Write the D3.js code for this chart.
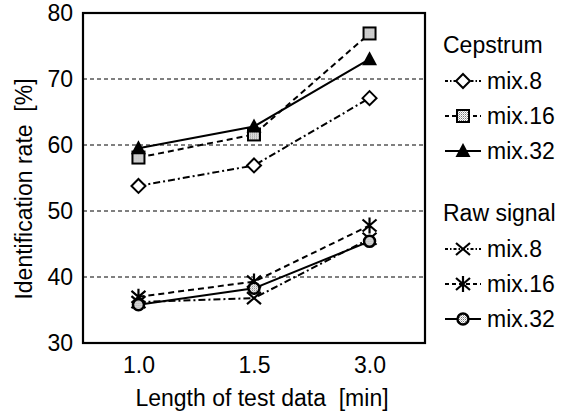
<!DOCTYPE html>
<html><head><meta charset="utf-8">
<script src="https://cdn.jsdelivr.net/npm/d3@7"></script>
<style>body{margin:0;background:#fff}svg{display:block}text{font-family:"Liberation Sans",Arial,sans-serif;fill:#000}</style>
</head><body><svg id="c" width="567" height="414"></svg>
<script>
const categories = ["1.0", "1.5", "3.0"];
const yTicks = [30, 40, 50, 60, 70, 80];
const gridValues = [40, 50, 60, 70];
const cep8 = [53.8, 56.9, 67.1];
const cep16 = [58.1, 61.6, 76.9];
const cep32 = [59.5, 62.8, 73.0];
const raw8 = [36.2, 36.8, 45.8];
const raw16 = [37.0, 39.3, 47.8];
const raw32 = [35.8, 38.3, 45.4];
const groupTitles = ["Cepstrum", "Raw signal"];
const seriesNames = ["mix.8", "mix.16", "mix.32"];

const series = [
  {g:0, name:seriesNames[0], values:cep8, dash:"7,3,2,3", marker:"diamond"},
  {g:0, name:seriesNames[1], values:cep16, dash:"6,4", marker:"square"},
  {g:0, name:seriesNames[2], values:cep32, dash:null, marker:"triangle"},
  {g:1, name:seriesNames[0], values:raw8, dash:"7,3,2,3", marker:"cross"},
  {g:1, name:seriesNames[1], values:raw16, dash:"6,4", marker:"asterisk"},
  {g:1, name:seriesNames[2], values:raw32, dash:null, marker:"circle"}
];

const FS = 23;
const svg = d3.select("#c");
const L = 83, R = 425, T = 13, B = 343;
const x = d3.scalePoint().domain(categories).range([L, R]).padding(0.48);
const y = d3.scaleLinear().domain([30, 80]).range([B, T]);

const defs = svg.append("defs");
const pat = defs.append("pattern").attr("id","dots").attr("width",2).attr("height",2).attr("patternUnits","userSpaceOnUse");
pat.append("rect").attr("width",2).attr("height",2).attr("fill","#fff");
pat.append("rect").attr("width",1).attr("height",1).attr("fill","#777");
pat.append("rect").attr("x",1).attr("y",1).attr("width",1).attr("height",1).attr("fill","#bbb");

// grid
svg.append("g").selectAll("line").data(gridValues).join("line")
  .attr("x1", L).attr("x2", R).attr("y1", d=>y(d)).attr("y2", d=>y(d))
  .attr("stroke","#000").attr("stroke-width",1).attr("stroke-dasharray","4,3");

// axes
const yAxis = svg.append("g").attr("transform",`translate(${L},0)`)
  .call(d3.axisLeft(y).tickValues(yTicks).tickSize(0).tickPadding(10));
yAxis.select(".domain").remove();
yAxis.selectAll("text").attr("font-size",FS).style("font-family","'Liberation Sans',Arial,sans-serif");
const xAxis = svg.append("g").attr("transform",`translate(0,${B})`)
  .call(d3.axisBottom(x).tickSize(0).tickPadding(14));
xAxis.select(".domain").remove();
xAxis.selectAll("text").attr("font-size",FS).style("font-family","'Liberation Sans',Arial,sans-serif");

svg.append("rect").attr("x",L).attr("y",T).attr("width",R-L).attr("height",B-T)
  .attr("fill","none").attr("stroke","#000").attr("stroke-width",2.2);

svg.append("text").attr("x",262).attr("y",406).attr("text-anchor","middle").attr("font-size",FS)
  .attr("xml:space","preserve").text("Length of test data  [min]");
svg.append("text").attr("transform",`translate(32,189) rotate(-90)`).attr("text-anchor","middle").attr("font-size",FS)
  .attr("xml:space","preserve").text("Identification rate  [%]");

function drawMarker(g, type, cx, cy) {
  const s = g.append("g").attr("transform",`translate(${cx},${cy})`);
  if (type==="diamond") s.append("path").attr("d","M0,-7L7,0L0,7L-7,0Z").attr("fill","#fff").attr("stroke","#000").attr("stroke-width",2);
  if (type==="square") s.append("rect").attr("x",-6).attr("y",-6).attr("width",12).attr("height",12).attr("fill","url(#dots)").attr("stroke","#000").attr("stroke-width",2);
  if (type==="triangle") s.append("path").attr("d","M0,-8L7.5,6L-7.5,6Z").attr("fill","#000");
  if (type==="cross") s.append("path").attr("d","M-7,-6L7,6M-7,6L7,-6").attr("stroke","#000").attr("stroke-width",2.2);
  if (type==="asterisk") s.append("path").attr("d","M-7,-6L7,6M-7,6L7,-6M0,-8L0,8").attr("stroke","#000").attr("stroke-width",2.2);
  if (type==="circle") s.append("circle").attr("r",5.5).attr("fill","url(#dots)").attr("stroke","#000").attr("stroke-width",2.5);
}

const line = d3.line().x((d,i)=>x(categories[i])).y(d=>y(d));
const plot = svg.append("g");
series.forEach(s => {
  plot.append("path").datum(s.values).attr("d", line).attr("fill","none")
    .attr("stroke","#000").attr("stroke-width",2).attr("stroke-dasharray", s.dash);
});
series.forEach(s => {
  s.values.forEach((v,i) => drawMarker(plot, s.marker, x(categories[i]), y(v)));
});

// legend
const leg = svg.append("g");
const groupY = [45, 213];
groupTitles.forEach((t,gi) => {
  leg.append("text").attr("x",443).attr("y",groupY[gi]+8).attr("font-size",FS).text(t);
});
series.forEach(s => {
  const idx = seriesNames.indexOf(s.name);
  const yy = groupY[s.g] + 36 + idx*35;
  leg.append("line").attr("x1",445).attr("x2",481).attr("y1",yy).attr("y2",yy)
    .attr("stroke","#000").attr("stroke-width",2).attr("stroke-dasharray", s.dash ? (s.dash==="6,4" ? "4,3" : "3,2,1.5,2") : null);
  drawMarker(leg, s.marker, 463, yy);
  leg.append("text").attr("x",487).attr("y",yy+8).attr("font-size",FS).text(s.name);
});
</script></body></html>
